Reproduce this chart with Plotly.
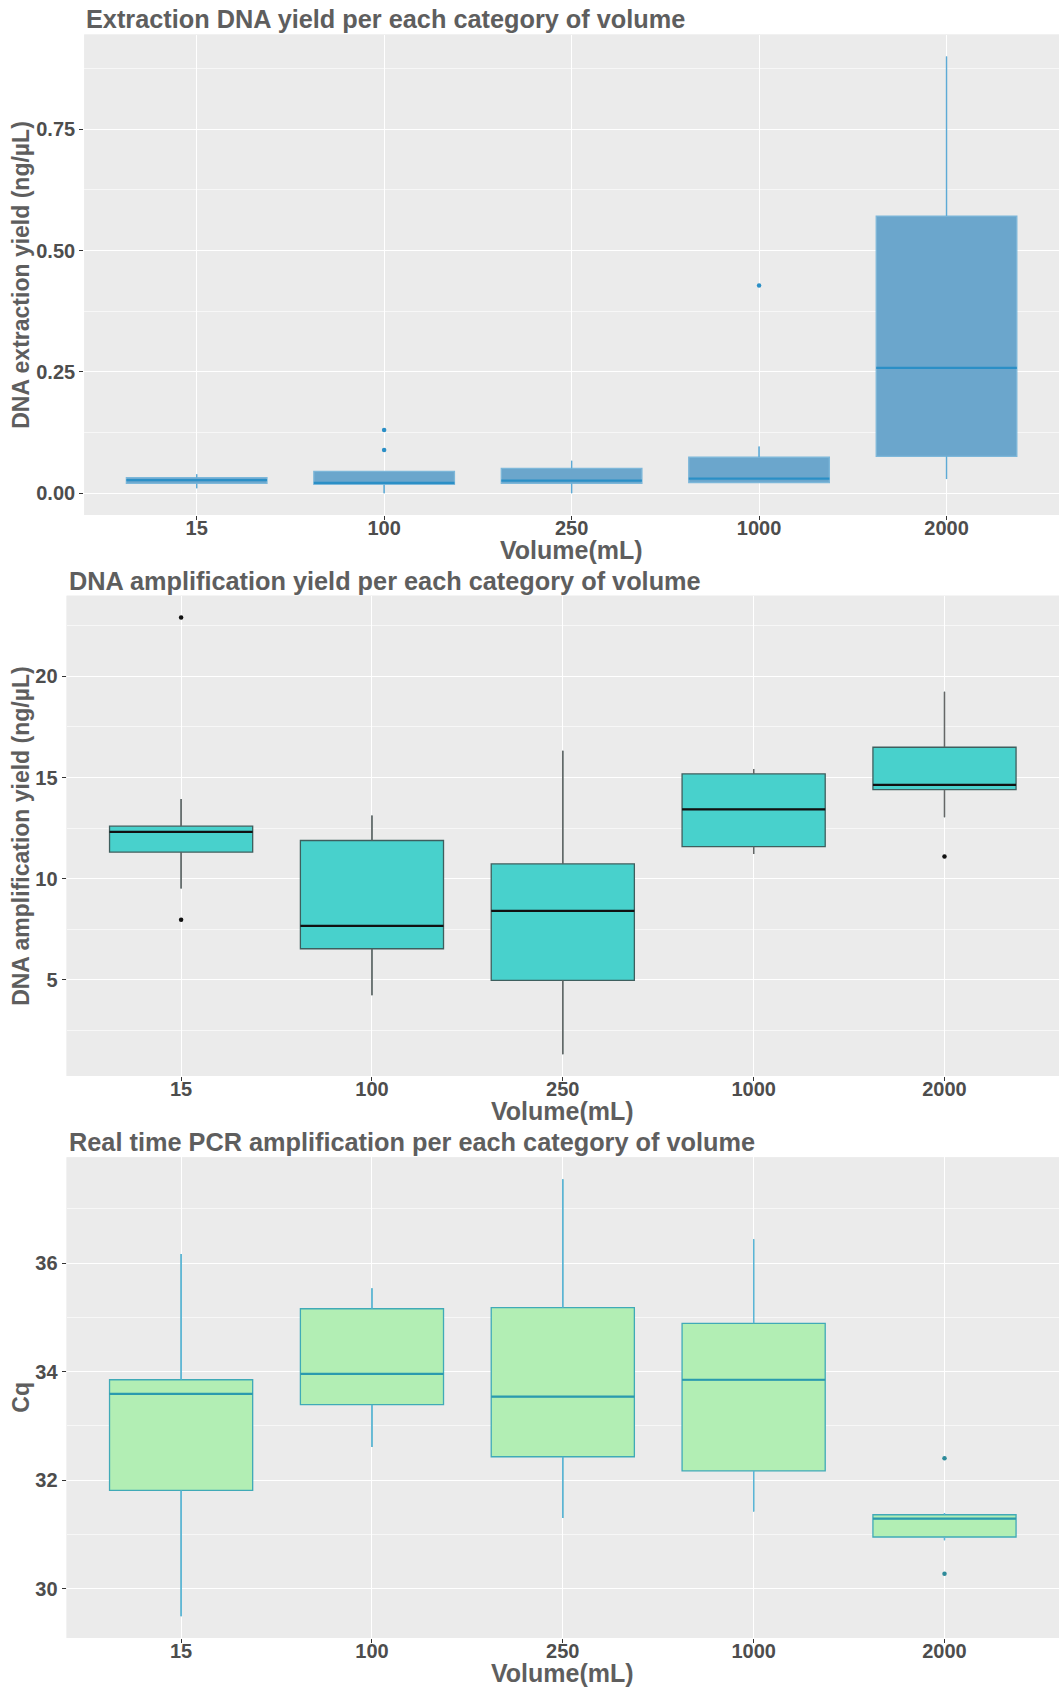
import plotly.graph_objects as go

# ---------------- data ----------------
volumes = ["15", "100", "250", "1000", "2000"]
positions = [1, 2, 3, 4, 5]

# Extraction DNA yield (ng/µL)
ext_q1 = [0.020, 0.018, 0.020, 0.022, 0.076]
ext_median = [0.027, 0.021, 0.026, 0.030, 0.258]
ext_q3 = [0.032, 0.045, 0.051, 0.074, 0.571]
ext_low = [0.010, 0.000, 0.000, 0.022, 0.029]
ext_high = [0.039, 0.045, 0.067, 0.096, 0.900]
ext_out_x = [2, 2, 4]
ext_out_y = [0.130, 0.089, 0.428]

# DNA amplification yield (ng/µL)
amp_q1 = [11.32, 6.54, 4.98, 11.59, 14.40]
amp_median = [12.32, 7.67, 8.41, 13.43, 14.64]
amp_q3 = [12.60, 11.89, 10.73, 15.18, 16.50]
amp_low = [9.52, 4.24, 1.33, 11.22, 13.04]
amp_high = [13.94, 13.13, 16.33, 15.43, 19.24]
amp_out_x = [1, 1, 5]
amp_out_y = [22.91, 7.97, 11.10]

# Real time PCR Cq
cq_q1 = [31.81, 33.39, 32.43, 32.17, 30.95]
cq_median = [33.59, 33.96, 33.54, 33.85, 31.29]
cq_q3 = [33.85, 35.16, 35.18, 34.89, 31.36]
cq_low = [29.49, 32.61, 31.30, 31.42, 30.89]
cq_high = [36.17, 35.54, 37.55, 36.44, 31.39]
cq_out_x = [5, 5]
cq_out_y = [32.40, 30.27]

# ---------------- layout helpers ----------------
W, H = 1059, 1688
BOX_W = 0.75
FONT = "Liberation Sans, Arial, sans-serif"
TITLE_COL = "#5E5E5E"
TICK_COL = "#4D4D4D"
PANEL_BG = "#EBEBEB"


def px_x(v):
    return v / W


def px_y(v):
    return 1 - v / H


def expand(lo, hi, frac=0.05):
    span = hi - lo
    return [lo - frac * span, hi + frac * span]


panels = [
    dict(left=84.2, top=34.6, bottom=515.0,
         q1=ext_q1, med=ext_median, q3=ext_q3, low=ext_low, high=ext_high,
         ox=ext_out_x, oy=ext_out_y,
         fill="#6BA6CC", border="#7DB7D9", median_col="#2B8FC6",
         whisker="#5DAAD6", out_col="#2B8FC6",
         dtick=0.25, minor=0.125, fmt=".2f",
         title="Extraction DNA yield per each category of volume",
         ytitle="DNA extraction yield (ng/µL)",
         title_y=18.5, xlab_y=550.0),
    dict(left=66.6, top=595.7, bottom=1076.0,
         q1=amp_q1, med=amp_median, q3=amp_q3, low=amp_low, high=amp_high,
         ox=amp_out_x, oy=amp_out_y,
         fill="#48D1CC", border="#3E5F5E", median_col="#111111",
         whisker="#666666", out_col="#111111",
         dtick=5, minor=2.5, fmt="d",
         title="DNA amplification yield per each category of volume",
         ytitle="DNA amplification yield (ng/µL)",
         title_y=581.0, xlab_y=1111.0),
    dict(left=66.6, top=1157.3, bottom=1638.0,
         q1=cq_q1, med=cq_median, q3=cq_q3, low=cq_low, high=cq_high,
         ox=cq_out_x, oy=cq_out_y,
         fill="#B2EEB4", border="#40AAB7", median_col="#2B9AAE",
         whisker="#5BB5DA", out_col="#2E8B9A",
         dtick=2, minor=1, fmt="d",
         title="Real time PCR amplification per each category of volume",
         ytitle="Cq",
         title_y=1141.5, xlab_y=1673.0),
]

fig = go.Figure()
annotations = []
layout_axes = {}

for k, p in enumerate(panels, start=1):
    xa = "x" if k == 1 else f"x{k}"
    ya = "y" if k == 1 else f"y{k}"

    # boxes from precomputed statistics
    fig.add_trace(go.Box(
        x=positions, q1=p["q1"], median=p["med"], q3=p["q3"],
        lowerfence=p["low"], upperfence=p["high"],
        width=BOX_W, whiskerwidth=0, boxpoints=False,
        fillcolor=p["fill"], line=dict(color=p["border"], width=1.3),
        xaxis=xa, yaxis=ya, showlegend=False, hoverinfo="skip",
    ))

    # whiskers
    wx, wy = [], []
    for i, pos in enumerate(positions):
        wx += [pos, pos, None, pos, pos, None]
        wy += [p["q3"][i], p["high"][i], None, p["low"][i], p["q1"][i], None]
    fig.add_trace(go.Scatter(
        x=wx, y=wy, mode="lines", line=dict(color=p["whisker"], width=1.2),
        xaxis=xa, yaxis=ya, showlegend=False, hoverinfo="skip",
    ))

    # median bars
    mx, my = [], []
    for i, pos in enumerate(positions):
        mx += [pos - BOX_W / 2, pos + BOX_W / 2, None]
        my += [p["med"][i], p["med"][i], None]
    fig.add_trace(go.Scatter(
        x=mx, y=my, mode="lines", line=dict(color=p["median_col"], width=2.2),
        xaxis=xa, yaxis=ya, showlegend=False, hoverinfo="skip",
    ))

    # outliers
    fig.add_trace(go.Scatter(
        x=p["ox"], y=p["oy"], mode="markers",
        marker=dict(color=p["out_col"], size=4.5),
        xaxis=xa, yaxis=ya, showlegend=False, hoverinfo="skip",
    ))

    all_vals = p["low"] + p["high"] + p["oy"]
    yrange = expand(min(all_vals), max(all_vals))

    axis_common = dict(
        showline=False, zeroline=False, ticks="outside", ticklen=4,
        tickwidth=1, tickcolor="#333333",
        tickfont=dict(family=FONT, size=20, color=TICK_COL, weight="bold"),
        showgrid=True, gridcolor="white", gridwidth=1.3,
    )
    layout_axes["xaxis" if k == 1 else f"xaxis{k}"] = dict(
        axis_common,
        domain=[px_x(p["left"]), 1.0], anchor=ya,
        range=[0.4, 5.6], tickmode="array", tickvals=positions,
        ticktext=volumes, ticklabelstandoff=-9,
    )
    layout_axes["yaxis" if k == 1 else f"yaxis{k}"] = dict(
        axis_common,
        domain=[px_y(p["bottom"]), px_y(p["top"])], anchor=xa,
        range=yrange, dtick=p["dtick"], tick0=0, tickformat=p["fmt"],
        minor=dict(dtick=p["minor"], tick0=0, showgrid=True,
                   gridcolor="#F7F7F7", gridwidth=0.7, ticks=""),
    )

    # panel background
    fig.add_shape(type="rect", xref="paper", yref="paper",
                  x0=px_x(p["left"]), x1=1.0,
                  y0=px_y(p["bottom"]), y1=px_y(p["top"]),
                  fillcolor=PANEL_BG, line=dict(width=0), layer="below")

    # titles
    annotations.append(dict(
        text=p["title"], x=px_x(p["left"]), y=px_y(p["title_y"]),
        xref="paper", yref="paper", xanchor="left", yanchor="middle",
        showarrow=False,
        font=dict(family=FONT, size=25.3, color=TITLE_COL, weight="bold"),
    ))
    annotations.append(dict(
        text="Volume(mL)", x=px_x((p["left"] + W) / 2), y=px_y(p["xlab_y"]),
        xref="paper", yref="paper", xanchor="center", yanchor="middle",
        showarrow=False,
        font=dict(family=FONT, size=25, color=TITLE_COL, weight="bold"),
    ))
    annotations.append(dict(
        text=p["ytitle"], x=px_x(21), y=px_y((p["top"] + p["bottom"]) / 2),
        xref="paper", yref="paper", xanchor="center", yanchor="middle",
        textangle=-90, showarrow=False,
        font=dict(family=FONT, size=23, color=TITLE_COL, weight="bold"),
    ))

fig.update_layout(
    width=W, height=H,
    margin=dict(l=0, r=0, t=0, b=0),
    paper_bgcolor="white", plot_bgcolor=PANEL_BG,
    annotations=annotations,
    **layout_axes,
)

fig.write_html("out.html")
